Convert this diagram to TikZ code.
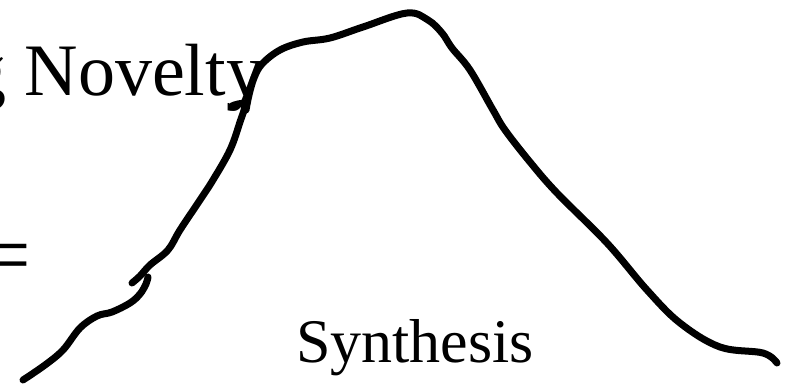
\documentclass[tikz,border=0pt]{standalone}
\usepackage{fontspec}
\setmainfont{Liberation Serif}
\begin{document}
\begin{tikzpicture}[x=1pt,y=-1pt,
  stroke/.style={line width=7pt,line cap=round,line join=round},
  big/.style={inner sep=0pt,font=\fontsize{74}{74}\selectfont},
  eqsize/.style={inner sep=0pt,font=\fontsize{88}{88}\selectfont},
  mid/.style={inner sep=0pt,font=\fontsize{62}{62}\selectfont}]
\useasboundingbox (0,0) rectangle (787,384);
\clip (0,0) rectangle (787,384);
\node[big,anchor=base west] (nov) at (-31,95) {g Novelty};
\node[eqsize,anchor=base west] (eq) at (-19,284) {=};
\node[mid,anchor=base west] (syn) at (296,362) {Synthesis};
\draw[stroke] plot[smooth,tension=0.6] coordinates {(23,380) (45,365) (63,350) (80,328) (97,316) (112,312) (130,303) (140,294) (146,284) (148,277)};
\draw[stroke] plot[smooth,tension=0.6] coordinates {(132,283) (140,276) (150,265) (168,250) (180,230) (200,200) (213,180) (230,150) (240,122) (245,105) (238,104) (232,106)};
\draw[stroke] plot[smooth,tension=0.6] coordinates {(246,110) (249,95) (254,78) (262,64) (280,50) (303,42) (330,38) (363,27) (407,13) (428,20) (442,33) (452,48) (470,70) (493,110) (505,130) (530,162) (557,193) (607,243) (647,290) (680,323) (720,347) (763,353) (777,363)};
\end{tikzpicture}
\end{document}
